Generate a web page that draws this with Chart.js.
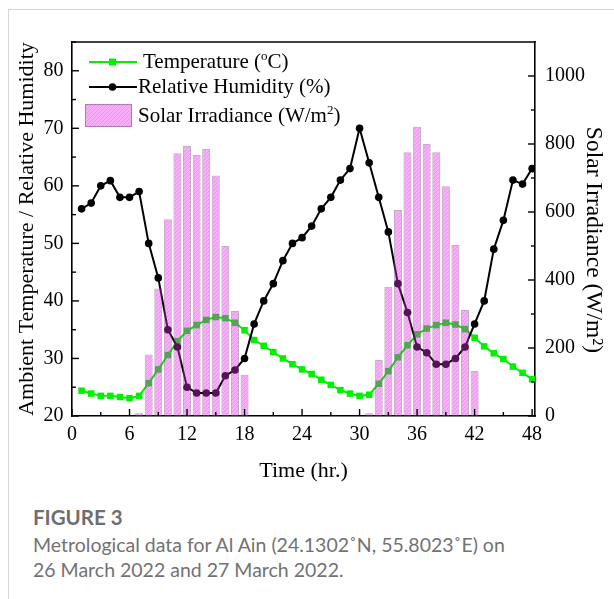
<!DOCTYPE html>
<html><head><meta charset="utf-8">
<script src="https://cdn.jsdelivr.net/npm/chart.js@4.4.0/dist/chart.umd.min.js"></script>
<style>
html,body{margin:0;padding:0;background:#fff;}
#wrap{position:relative;width:614px;height:599px;overflow:hidden;}
#frame{position:absolute;left:8px;top:9px;width:700px;height:700px;border-left:1px solid #d6d6d6;border-top:1px solid #d6d6d6;}
#holder{position:absolute;left:0;top:0;width:614px;height:490px;}
.cap{position:absolute;left:33px;font-family:Lato,"Open Sans",sans-serif;color:#727272;font-size:19.5px;white-space:nowrap;line-height:22px;}
</style></head><body>
<div id="wrap">
<div id="frame"></div>
<div id="holder"><canvas id="cv" width="614" height="490"></canvas></div>
<div class="cap" style="top:506px;font-weight:700;font-size:20.5px;color:#6e6e6e;">FIGURE 3</div>
<div class="cap" style="top:534px">Metrological data for Al Ain (24.1302˚N, 55.8023˚E) on</div>
<div class="cap" style="top:559px">26 March 2022 and 27 March 2022.</div>
</div>
<script>
// ---- data ----
const hours = [1,2,3,4,5,6,7,8,9,10,11,12,13,14,15,16,17,18,19,20,21,22,23,24,
               25,26,27,28,29,30,31,32,33,34,35,36,37,38,39,40,41,42,43,44,45,46,47,48];
const temperature = [24.4,23.9,23.5,23.5,23.3,23.1,23.5,25.7,28.1,30.6,33.0,34.8,
                     35.8,36.7,37.2,37.0,36.2,34.9,33.2,32.2,31.1,30.0,29.0,28.1,
                     27.3,26.3,25.4,24.5,23.9,23.5,23.7,25.6,27.8,30.2,32.3,34.2,
                     35.2,35.8,36.2,35.9,35.1,33.6,32.1,30.9,29.9,28.6,27.5,26.4];
const humidity = [56.0,57.0,60.0,60.9,58.0,58.0,59.0,50.0,44.0,35.0,32.0,25.0,
                  24.0,24.0,24.0,27.0,28.0,30.0,36.0,40.0,43.0,47.0,50.0,51.0,
                  53.0,56.0,58.0,61.0,63.0,70.0,64.0,58.0,52.0,43.0,38.0,32.0,
                  31.0,29.0,29.0,30.0,32.0,36.0,40.0,49.0,54.0,61.0,60.3,63.0];
const irrHours = [7,8,9,10,11,12,13,14,15,16,17,18,31,32,33,34,35,36,37,38,39,40,41,42];
const irradiance = [8,181,375,579,773,794,768,785,707,500,309,121,
                    8,165,380,606,776,851,800,776,676,503,312,132];
const xTicks = [0,6,12,18,24,30,36,42,48];
const leftTicks = [20,30,40,50,60,70,80];
const rightTicks = [0,200,400,600,800,1000];

const SERIF = '"Liberation Serif","Times New Roman",serif';
const GREEN = '#00f000';

function hatch(ctx){
  const c = document.createElement('canvas'); c.width = 4; c.height = 4;
  const p = c.getContext('2d');
  p.fillStyle = 'rgba(235,40,235,0.38)'; p.fillRect(0,0,4,4);
  p.strokeStyle = 'rgba(150,40,150,0.2)'; p.lineWidth = 0.8;
  p.beginPath();
  p.moveTo(0,4); p.lineTo(4,0);
  p.moveTo(-1,1); p.lineTo(1,-1);
  p.moveTo(3,5); p.lineTo(5,3);
  p.stroke();
  return ctx.createPattern(c,'repeat');
}

const cv = document.getElementById('cv');
const ctx0 = cv.getContext('2d');
const pattern = hatch(ctx0);

function mids(a){ const r=[]; for(let i=0;i<a.length-1;i++) r.push((a[i]+a[i+1])/2); return r; }

const decor = {
  id:'decor',
  afterDraw(chart){
    const ctx = chart.ctx;
    const {left,right,top,bottom} = chart.chartArea;
    const sx = chart.scales.x, sy = chart.scales.y, sr = chart.scales.y2;
    ctx.save();
    ctx.strokeStyle = '#000'; ctx.lineWidth = 1.6;
    ctx.beginPath(); ctx.moveTo(left-0.8, top); ctx.lineTo(right+0.8, top); ctx.stroke();
    ctx.lineWidth = 1.4;
    const tk = (x1,y1,x2,y2)=>{ctx.beginPath();ctx.moveTo(x1,y1);ctx.lineTo(x2,y2);ctx.stroke();};
    xTicks.forEach(v=>{const p=sx.getPixelForValue(v); tk(p,bottom,p,bottom-7);});
    mids(xTicks).forEach(v=>{const p=sx.getPixelForValue(v); tk(p,bottom,p,bottom-4);});
    leftTicks.forEach(v=>{const p=sy.getPixelForValue(v); tk(left,p,left+7,p);});
    mids(leftTicks).forEach(v=>{const p=sy.getPixelForValue(v); tk(left,p,left+4,p);});
    tk(left,sy.getPixelForValue(85),left+4,sy.getPixelForValue(85));
    rightTicks.forEach(v=>{const p=sr.getPixelForValue(v); tk(right,p,right-7,p);});
    mids(rightTicks).forEach(v=>{const p=sr.getPixelForValue(v); tk(right,p,right-4,p);});

    // axis titles
    ctx.fillStyle = '#000';
    ctx.font = '22px ' + SERIF;
    ctx.textAlign = 'center'; ctx.textBaseline = 'alphabetic';
    ctx.fillText('Time (hr.)', (left+right)/2, 477);
    ctx.save();
    ctx.translate(33, (top+bottom)/2); ctx.rotate(-Math.PI/2);
    ctx.fillText('Ambient Temperature / Relative Humidity', 0, 0);
    ctx.restore();
    ctx.save();
    ctx.translate(587, 240); ctx.rotate(Math.PI/2);
    ctx.font = '23.5px ' + SERIF;
    ctx.fillText('Solar Irradiance (W/m\u00B2)', 0, 0);
    ctx.restore();

    // legend
    ctx.lineWidth = 2;
    ctx.strokeStyle = GREEN; tk(89,62,137,62);
    ctx.fillStyle = GREEN; ctx.fillRect(112.5-3.5,62-3.5,7,7);
    ctx.strokeStyle = '#000'; tk(89,87,137,87);
    ctx.fillStyle = '#000'; ctx.beginPath(); ctx.arc(112.5,87,3.8,0,Math.PI*2); ctx.fill();
    ctx.fillStyle = pattern; ctx.fillRect(85,104,47,23);
    ctx.strokeStyle = 'rgba(120,70,120,0.5)'; ctx.lineWidth = 1; ctx.strokeRect(85.5,104.5,46,22);

    ctx.fillStyle = '#000'; ctx.textAlign = 'left';
    const big = '21px ' + SERIF, small = '13px ' + SERIF;
    const seg = (parts, x, y)=>{
      parts.forEach(([t,sup])=>{
        ctx.font = sup ? small : big;
        ctx.fillText(t, x, sup ? y-8 : y);
        x += ctx.measureText(t).width;
      });
    };
    seg([['Temperature (',0],['o',1],['C)',0]], 143, 68);
    seg([['Relative Humidity (%)',0]], 138, 93);
    seg([['Solar Irradiance (W/m',0],['2',1],[')',0]], 138, 121.5);
    ctx.restore();
  }
};

const plain = v => String(v);

const chart = new Chart(cv, {
  type: 'line',
  data: {
    datasets: [
      {
        type:'bar', label:'Solar Irradiance (W/m²)',
        data: irrHours.map((h,i)=>({x:h,y:irradiance[i]})),
        yAxisID:'y2', xAxisID:'x', order:0,
        backgroundColor: pattern, borderColor:'rgba(120,70,120,0.45)', borderWidth:1,
        categoryPercentage:1.0, barPercentage:0.84
      },
      {
        type:'line', label:'Relative Humidity (%)',
        data: hours.map((h,i)=>({x:h,y:humidity[i]})),
        yAxisID:'y', xAxisID:'x', order:1,
        borderColor:'#000', backgroundColor:'#000', borderWidth:2,
        pointStyle:'circle', pointRadius:3.8, pointBorderWidth:0, tension:0
      },
      {
        type:'line', label:'Temperature (°C)',
        data: hours.map((h,i)=>({x:h,y:temperature[i]})),
        yAxisID:'y', xAxisID:'x', order:2,
        borderColor:GREEN, backgroundColor:GREEN, borderWidth:2,
        pointStyle:'rect', pointRadius:4.6, pointBorderWidth:0, tension:0
      }
    ]
  },
  options: {
    responsive:false, animation:false, events:[],
    layout:{padding:{top:42,left:0,right:0,bottom:0}},
    plugins:{legend:{display:false}, tooltip:{enabled:false}, title:{display:false}},
    scales:{
      x:{
        type:'linear', position:'bottom', min:0, max:48.3, offset:false,
        afterBuildTicks: s=>{ s.ticks = xTicks.map(v=>({value:v})); },
        afterFit: s=>{ s.height = 74; },
        grid:{display:false, drawTicks:false, offset:false},
        border:{display:true, color:'#000', width:1.6},
        ticks:{font:{family:SERIF,size:20}, color:'#000', padding:6.5, maxRotation:0, autoSkip:false, callback:plain}
      },
      y:{
        type:'linear', position:'left', min:20, max:85,
        afterBuildTicks: s=>{ s.ticks = leftTicks.map(v=>({value:v})); },
        afterFit: s=>{ s.width = 72; },
        grid:{display:false, drawTicks:false},
        border:{display:true, color:'#000', width:1.6},
        ticks:{font:{family:SERIF,size:20}, color:'#000', padding:8.5, callback:plain}
      },
      y2:{
        type:'linear', position:'right', min:0, max:1100,
        afterBuildTicks: s=>{ s.ticks = rightTicks.map(v=>({value:v})); },
        afterFit: s=>{ s.width = 79; },
        grid:{display:false, drawTicks:false},
        border:{display:true, color:'#000', width:1.6},
        ticks:{font:{family:SERIF,size:20}, color:'#000', padding:10, callback:plain}
      }
    }
  },
  plugins:[decor]
});
</script>
</body></html>
